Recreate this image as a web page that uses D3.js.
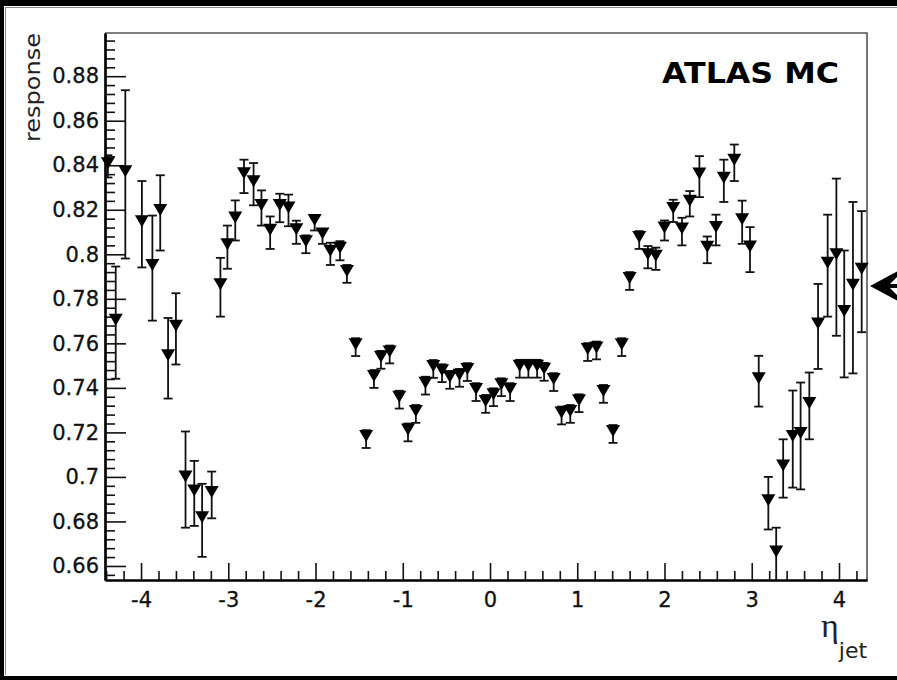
<!DOCTYPE html>
<html>
<head>
<meta charset="utf-8">
<script src="https://cdn.jsdelivr.net/npm/d3@7"></script>
<style>
  html, body { margin: 0; padding: 0; background: #fff; }
  svg { display: block; }
</style>
</head>
<body>
<svg id="chart" width="897" height="680"></svg>
<script>
// Jet response versus jet pseudorapidity
const etaBins = [
  -4.38, -4.29, -4.18, -3.99, -3.87, -3.78, -3.69, -3.60, -3.49, -3.39, -3.30, -3.19, -3.09, -3.01,
  -2.92, -2.82, -2.71, -2.62, -2.52, -2.41, -2.31, -2.22, -2.11, -2.01, -1.92, -1.83, -1.72, -1.64,
  -1.54, -1.42, -1.33, -1.25, -1.15, -1.04, -0.94, -0.85, -0.74, -0.65, -0.55, -0.46, -0.35, -0.26,
  -0.16, -0.05, 0.04, 0.13, 0.23, 0.34, 0.44, 0.54, 0.62, 0.73, 0.82, 0.92, 1.02, 1.12, 1.22, 1.30,
  1.41, 1.51,
  1.60, 1.71, 1.81, 1.90, 2.00, 2.10, 2.20, 2.29, 2.40, 2.49, 2.59, 2.68, 2.80, 2.89, 2.98, 3.08,
  3.19, 3.28, 3.36, 3.47, 3.56, 3.66, 3.76, 3.87, 3.97, 4.06, 4.16, 4.26
];
const responseValues = [
  0.8395, 0.7693, 0.8359, 0.8135, 0.7938, 0.8186, 0.7533, 0.7665, 0.6988, 0.6926, 0.6805, 0.6919, 0.7852, 0.8032,
  0.8152, 0.8350, 0.8315, 0.8208, 0.8097, 0.8208, 0.8197, 0.8099, 0.8045, 0.8141, 0.8080, 0.8002, 0.8016, 0.7912,
  0.7583, 0.7170, 0.7440, 0.7526, 0.7550, 0.7347, 0.7200, 0.7283, 0.7410, 0.7485, 0.7466, 0.7436, 0.7445, 0.7471,
  0.7381, 0.7328, 0.7358, 0.7403, 0.7381, 0.7486, 0.7486, 0.7486, 0.7472, 0.7426, 0.7276, 0.7283, 0.7331, 0.7561, 0.7568, 0.7373,
  0.7193, 0.7583,
  0.7880, 0.8064, 0.7987, 0.7980, 0.8107, 0.8195, 0.8102, 0.8227, 0.8349, 0.8020, 0.8109, 0.8330, 0.8411, 0.8144, 0.8021, 0.7430,
  0.6882, 0.6652, 0.7038, 0.7170, 0.7184, 0.7319, 0.7676, 0.7949, 0.7987, 0.7732, 0.7850, 0.7922
];
const responseErrors = [
  0.0050, 0.0252, 0.0378, 0.0194, 0.0236, 0.0169, 0.0181, 0.0160, 0.0216, 0.0146, 0.0164, 0.0105, 0.0132, 0.0097,
  0.0090, 0.0075, 0.0095, 0.0079, 0.0073, 0.0064, 0.0071, 0.0052, 0.0040, 0.0034, 0.0033, 0.0050, 0.0043, 0.0040,
  0.0040, 0.0040, 0.0040, 0.0040, 0.0040, 0.0040, 0.0040, 0.0040, 0.0040, 0.0040, 0.0040, 0.0040, 0.0040, 0.0040,
  0.0040, 0.0040, 0.0040, 0.0040, 0.0040, 0.0040, 0.0040, 0.0040, 0.0040, 0.0040, 0.0040, 0.0040, 0.0040, 0.0040, 0.0040, 0.0040,
  0.0040, 0.0040,
  0.0040, 0.0040, 0.0050, 0.0050, 0.0045, 0.0050, 0.0062, 0.0057, 0.0092, 0.0060, 0.0069, 0.0095, 0.0082, 0.0097, 0.0101, 0.0114,
  0.0118, 0.0120, 0.0131, 0.0218, 0.0240, 0.0150, 0.0191, 0.0229, 0.0353, 0.0285, 0.0385, 0.0272
];

// Axis ranges and tick values
const etaRange = [-4.413, 4.321];
const responseRange = [0.6537, 0.8994];
const xMajorTicks = [-4, -3, -2, -1, 0, 1, 2, 3, 4];
const yMajorTicks = [0.66, 0.68, 0.70, 0.72, 0.74, 0.76, 0.78, 0.80, 0.82, 0.84, 0.86, 0.88];

const xMinorTicks = d3.range(-22, 22).map(i => i * 0.2)
  .filter(v => v > etaRange[0] && v < etaRange[1] && Math.abs(v - Math.round(v)) > 1e-6);
const yMinorTicks = d3.range(164, 225).map(i => i * 0.004)
  .filter(v => v > responseRange[0] && v < responseRange[1] &&
               yMajorTicks.every(m => Math.abs(m - v) > 1e-6));

const svg = d3.select("#chart");
const W = 897, H = 680;
const plot = { left: 105, right: 867, top: 33, bottom: 580 };

svg.append("rect").attr("width", W).attr("height", H).attr("fill", "#fff");

// Outer picture border
svg.append("rect").attr("x", 0).attr("y", 0).attr("width", W).attr("height", 6).attr("fill", "#000");
svg.append("rect").attr("x", 0).attr("y", 0).attr("width", 4).attr("height", H).attr("fill", "#000");
svg.append("rect").attr("x", 0).attr("y", 676).attr("width", W).attr("height", 4).attr("fill", "#000");
svg.append("line").attr("x1", 5).attr("x2", W).attr("y1", 7.5).attr("y2", 7.5)
  .attr("stroke", "#888").attr("stroke-width", 1);
svg.append("line").attr("x1", 5.5).attr("x2", 5.5).attr("y1", 7).attr("y2", 675)
  .attr("stroke", "#888").attr("stroke-width", 1);

const x = d3.scaleLinear().domain(etaRange).range([plot.left, plot.right]);
const y = d3.scaleLinear().domain(responseRange).range([plot.bottom, plot.top]);

// Frame: top and right edges
svg.append("path")
  .attr("d", `M${plot.left},${plot.top}H${plot.right}V${plot.bottom}`)
  .attr("fill", "none").attr("stroke", "#555").attr("stroke-width", 1.6);

const fontSans = "'DejaVu Sans', Verdana, sans-serif";

// Y axis (ticks pointing into the frame)
const yMinor = svg.append("g").attr("transform", `translate(${plot.left},0)`)
  .call(d3.axisLeft(y).tickValues(yMinorTicks).tickSize(-10).tickSizeOuter(0).tickFormat(""));
const yMajor = svg.append("g").attr("transform", `translate(${plot.left},0)`)
  .call(d3.axisLeft(y).tickValues(yMajorTicks).tickSize(-21).tickSizeOuter(0).tickPadding(6)
    .tickFormat(d => String(+d.toFixed(2))));

// X axis (ticks pointing up into the frame)
const xMinor = svg.append("g").attr("transform", `translate(0,${plot.bottom})`)
  .call(d3.axisBottom(x).tickValues(xMinorTicks).tickSize(-9).tickSizeOuter(0).tickFormat(""));
const xMajor = svg.append("g").attr("transform", `translate(0,${plot.bottom})`)
  .call(d3.axisBottom(x).tickValues(xMajorTicks).tickSize(-17).tickSizeOuter(0).tickPadding(12)
    .tickFormat(d => String(d)));

[yMinor, yMajor, xMinor, xMajor].forEach(g => {
  g.selectAll(".domain").attr("stroke", "#000").attr("stroke-width", 2.2);
  g.selectAll(".tick line").attr("stroke", "#111").attr("stroke-width", 1.6);
  g.selectAll("text").attr("font-family", fontSans).attr("font-size", 21).attr("fill", "#111")
    .attr("stroke", "#111").attr("stroke-width", 0.3);
});

// Axis titles
svg.append("text")
  .attr("transform", `translate(40,${plot.top}) rotate(-90)`)
  .attr("text-anchor", "end")
  .attr("font-family", fontSans).attr("font-size", 21).attr("fill", "#222")
  .attr("textLength", 109).attr("lengthAdjust", "spacingAndGlyphs")
  .text("response");

const xTitle = svg.append("text")
  .attr("x", 821).attr("y", 637)
  .attr("fill", "#222");
xTitle.append("tspan")
  .attr("font-family", "'Liberation Serif', 'DejaVu Serif', serif").attr("font-size", 34)
  .text("η");
xTitle.append("tspan")
  .attr("font-family", fontSans).attr("font-size", 22).attr("dy", 21)
  .text("jet");

// Label
svg.append("text")
  .attr("x", 662).attr("y", 83)
  .attr("font-family", "'DejaVu Sans', Verdana, sans-serif").attr("font-weight", "bold")
  .attr("font-size", 28).attr("fill", "#000")
  .attr("textLength", 177).attr("lengthAdjust", "spacingAndGlyphs")
  .text("ATLAS MC");

// Error bars are clipped to the frame; markers are drawn whole
svg.append("clipPath").attr("id", "plotClip")
  .append("rect").attr("x", plot.left).attr("y", plot.top)
  .attr("width", plot.right - plot.left).attr("height", plot.bottom - plot.top);

const points = etaBins.map((eta, i) => ({ eta, r: responseValues[i], e: responseErrors[i] }));
const barLayer = svg.append("g").attr("clip-path", "url(#plotClip)");
const markerLayer = svg.append("g");

const capHalf = 4.5;
const bars = barLayer.selectAll("g.pt").data(points).join("g").attr("class", "pt");
bars.append("line")
  .attr("x1", d => x(d.eta)).attr("x2", d => x(d.eta))
  .attr("y1", d => y(d.r + d.e)).attr("y2", d => y(d.r - d.e))
  .attr("stroke", "#111").attr("stroke-width", 1.8);
bars.append("line")
  .attr("x1", d => x(d.eta) - capHalf).attr("x2", d => x(d.eta) + capHalf)
  .attr("y1", d => y(d.r + d.e)).attr("y2", d => y(d.r + d.e))
  .attr("stroke", "#111").attr("stroke-width", 1.8);
bars.append("line")
  .attr("x1", d => x(d.eta) - capHalf).attr("x2", d => x(d.eta) + capHalf)
  .attr("y1", d => y(d.r - d.e)).attr("y2", d => y(d.r - d.e))
  .attr("stroke", "#111").attr("stroke-width", 1.8);

// Downward triangle markers
markerLayer.selectAll("path").data(points).join("path")
  .attr("d", d => {
    const cx = x(d.eta), cy = y(d.r);
    return `M${cx - 7},${cy - 9}L${cx + 7},${cy - 9}L${cx},${cy + 3}Z`;
  })
  .attr("fill", "#000");

// Pointer arrow at the right edge
svg.append("path")
  .attr("d", "M870,286L897,271.5L897,277L888,286L897,295L897,300.5Z")
  .attr("fill", "#000");
svg.append("line").attr("x1", 887).attr("x2", 897).attr("y1", 286).attr("y2", 286)
  .attr("stroke", "#000").attr("stroke-width", 4);
</script>
</body>
</html>
